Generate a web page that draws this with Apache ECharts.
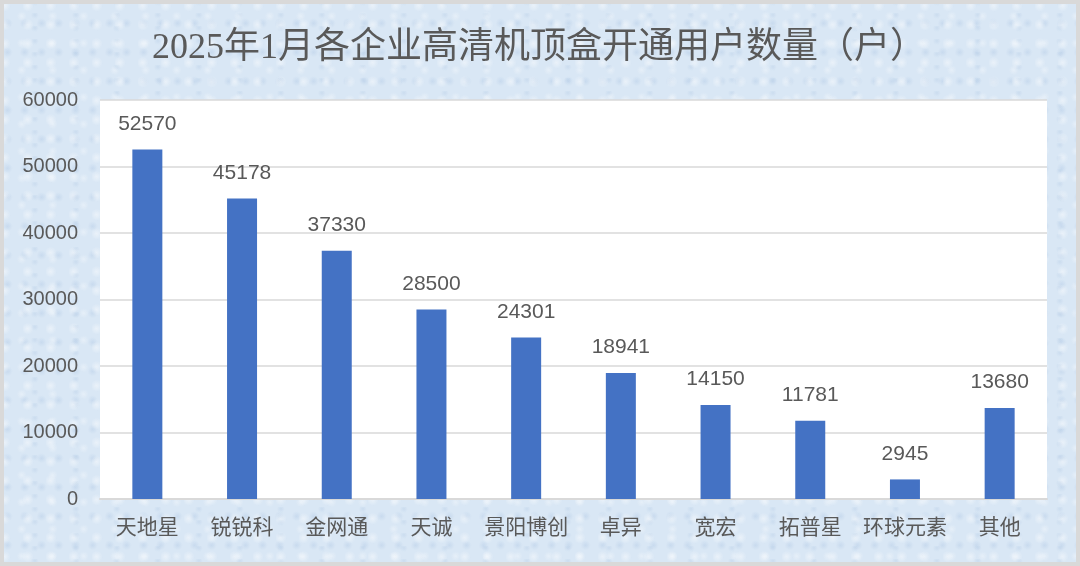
<!DOCTYPE html>
<html>
<head>
<meta charset="utf-8">
<script src="https://cdn.jsdelivr.net/npm/echarts@6/dist/echarts.min.js"></script>
<style>
  html, body { margin: 0; padding: 0; background: #ffffff; }
  #wrap { position: relative; width: 1080px; height: 566px; }
  #main {
    position: absolute; left: 0; top: 0; width: 1080px; height: 566px;
    background-color: #d9e7f5;
    background-image:
      radial-gradient(circle at 20% 30%, rgba(255,255,255,0.45) 0, rgba(255,255,255,0) 6px),
      radial-gradient(circle at 70% 60%, rgba(255,255,255,0.35) 0, rgba(255,255,255,0) 5px),
      radial-gradient(circle at 45% 80%, rgba(170,195,225,0.35) 0, rgba(170,195,225,0) 5px),
      radial-gradient(circle at 85% 15%, rgba(170,195,225,0.3) 0, rgba(170,195,225,0) 4px);
    background-size: 23px 19px, 31px 27px, 17px 29px, 41px 13px;
  }
  #frame {
    position: absolute; left: 0; top: 0; width: 1080px; height: 566px;
    box-sizing: border-box; border: 4px solid #d9d9d9; pointer-events: none;
  }
</style>
</head>
<body>
<div id="wrap">
  <div id="main"></div>
  <div id="frame"></div>
</div>
<script>
var categories = ['天地星', '锐锐科', '金网通', '天诚', '景阳博创', '卓异', '宽宏', '拓普星', '环球元素', '其他'];
var users = [52570, 45178, 37330, 28500, 24301, 18941, 14150, 11781, 2945, 13680];
var yTicks = [0, 10000, 20000, 30000, 40000, 50000, 60000];

var chart = echarts.init(document.getElementById('main'), null, { renderer: 'canvas' });

var option = {
    backgroundColor: 'transparent',
    animation: false,
    title: {
        text: '2025年1月各企业高清机顶盒开通用户数量（户）',
        left: 147,
        top: 26,
        textStyle: {
            fontFamily: '"Liberation Serif", "Noto Sans CJK SC"',
            fontSize: 36,
            fontWeight: 'normal',
            color: '#595959'
        }
    },
    grid: {
        left: 100,
        right: 33,
        top: 100,
        bottom: 67,
        show: true,
        backgroundColor: '#ffffff',
        borderWidth: 0
    },
    xAxis: {
        type: 'category',
        data: categories,
        axisLine: { show: true, lineStyle: { color: '#d9d9d9', width: 2 } },
        axisTick: { show: false },
        axisLabel: {
            interval: 0,
            margin: 17,
            fontFamily: '"Noto Sans CJK SC"',
            fontSize: 21,
            color: '#595959'
        }
    },
    yAxis: {
        type: 'value',
        min: yTicks[0],
        max: yTicks[yTicks.length - 1],
        interval: 10000,
        axisLine: { show: false },
        axisTick: { show: false },
        splitLine: { lineStyle: { color: '#d9d9d9', width: 1.5 } },
        axisLabel: {
            margin: 22,
            formatter: function (v) { return String(v); },
            fontFamily: '"Liberation Sans", Arial, sans-serif',
            fontSize: 20,
            color: '#595959'
        }
    },
    series: [{
        type: 'bar',
        data: users,
        barWidth: 30,
        itemStyle: { color: '#4472c4' },
        label: {
            show: true,
            position: 'top',
            distance: 15,
            fontFamily: '"Liberation Sans", Arial, sans-serif',
            fontSize: 21,
            color: '#595959'
        }
    }]
};

chart.setOption(option);
</script>
</body>
</html>
